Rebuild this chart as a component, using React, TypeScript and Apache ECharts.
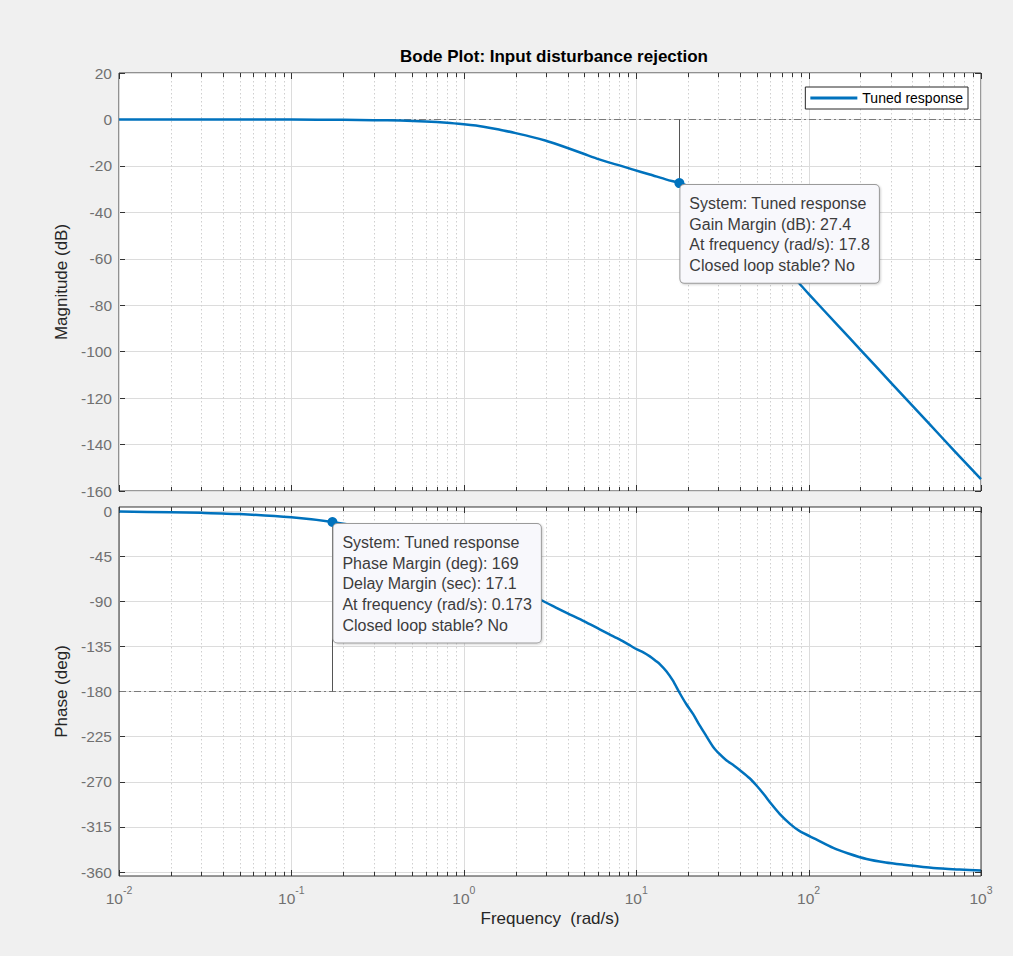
import React, { useEffect, useRef } from 'react';
import * as echarts from 'echarts';

const FONT = '"Liberation Sans", Arial, Helvetica, sans-serif';
const BLUE = '#0072BD';

// Magnitude response (rad/s, dB)
const magFreq = [0.01, 0.05, 0.1, 0.2, 0.3, 0.43, 0.6, 0.8, 1, 1.3, 1.6, 2, 2.5, 3, 3.5, 4, 5, 6.1, 7, 8, 9.5, 12, 15, 17.8, 20, 22, 25, 28, 31, 35, 40, 45, 50, 60, 67, 75, 87, 100, 150, 200, 300, 500, 700, 1000];
const magDb = [0, -0.02, -0.05, -0.15, -0.3, -0.5, -0.85, -1.4, -2.1, -3.1, -4.3, -5.9, -7.6, -9.2, -10.8, -12.3, -14.9, -17.2, -18.6, -19.8, -21.5, -23.7, -25.9, -27.4, -28.6, -29.8, -31.7, -33.8, -36.2, -39.5, -43.5, -47.5, -51, -57.5, -61.3, -65.2, -70.1, -75.1, -89.2, -99.2, -113.3, -131, -142.7, -154.9];

// Phase response (rad/s, deg)
const phaseFreq = [0.01, 0.02, 0.03, 0.05, 0.1, 0.173, 0.3, 0.4, 0.5, 0.7, 1, 1.2, 1.5, 2, 2.4, 2.82, 3.4, 4, 5, 6.14, 7, 8, 9, 10, 11, 12, 13, 13.7, 15, 16.3, 17.8, 19.5, 21.4, 23, 25, 27.9, 30.5, 33.3, 37, 40, 45.5, 50, 55, 61, 67.9, 78, 88.8, 110, 139, 170, 217, 280, 350, 529, 750, 1000];
const phaseDeg = [-0.6, -1.2, -1.8, -3, -6.3, -11, -18, -23, -28, -37, -48, -54.5, -62, -74, -82, -89, -96, -102, -110, -118, -123, -128, -133, -137.6, -141, -145, -149.5, -152.6, -160, -169, -181, -192.5, -202.6, -212, -222, -235, -242.5, -248.5, -254, -258.5, -266.5, -274, -282.5, -292.5, -302, -312, -319.3, -327.3, -336, -341.5, -347, -350.5, -352.6, -356, -357.6, -358.6];

// Axis structure
const decades = [0.01, 0.1, 1, 10, 100, 1000];
const minorMultipliers = [2, 3, 4, 5, 6, 7, 8, 9];
const magTicks = { min: -160, max: 20, step: 20 };
const phaseTicks = { min: -360, max: 0, step: 45 };
const phaseFrame = [-364, 4];

// Stability margin annotations
const gainPoint = [17.8, -27.4];
const phasePoint = [0.173, -11];
const gainInfo = ['System: Tuned response', 'Gain Margin (dB): 27.4', 'At frequency (rad/s): 17.8', 'Closed loop stable? No'];
const phaseInfo = ['System: Tuned response', 'Phase Margin (deg): 169', 'Delay Margin (sec): 17.1', 'At frequency (rad/s): 0.173', 'Closed loop stable? No'];

const zip = (a: number[], b: number[]) => a.map((v, i) => [v, b[i]]);

const gridMarks: number[][] = [
  ...decades.map((d) => [d, 1]),
  ...decades.slice(0, -1).flatMap((d) => minorMultipliers.map((m) => [Number((d * m).toPrecision(3)), 0])),
];

const makeGridRender = (yTop: number, yBot: number) => (params: any, api: any) => {
  const f = api.value(0);
  const major = api.value(1) === 1;
  const pTop = api.coord([f, yTop]);
  const pBot = api.coord([f, yBot]);
  const x = Math.round(pTop[0]) + 0.5;
  const top = pTop[1];
  const bot = pBot[1];
  const children: any[] = [];
  children.push({
    type: 'line',
    shape: { x1: x, y1: top, x2: x, y2: bot },
    style: major ? { stroke: '#dcdcdc', lineWidth: 1 } : { stroke: '#cfcfcf', lineWidth: 1, lineDash: [1.5, 2.5] },
  });
  const len = major ? 6 : 4;
  children.push({ type: 'line', shape: { x1: x, y1: top, x2: x, y2: top + len }, style: { stroke: '#333', lineWidth: 1 } });
  children.push({ type: 'line', shape: { x1: x, y1: bot - len, x2: x, y2: bot }, style: { stroke: '#333', lineWidth: 1 } });
  return { type: 'group', children };
};

const infoLabel = (lines: string[]) => ({
  show: true,
  position: [6, 7],
  align: 'left',
  verticalAlign: 'top',
  formatter: lines.join('\n'),
  fontFamily: FONT,
  fontSize: 16,
  lineHeight: 20.7,
  color: '#3c3c3c',
  backgroundColor: '#f8f8fc',
  borderColor: '#9a9a9a',
  borderWidth: 1,
  borderRadius: 4,
  padding: [8, 9, 7, 9],
  shadowColor: 'rgba(0,0,0,0.18)',
  shadowBlur: 2,
  shadowOffsetX: 1,
  shadowOffsetY: 1,
});

const dashDot = { color: '#7a7a7a', width: 1, type: [7, 3, 2, 3] as any };

const xLabelFormatter = (v: number) => `{b|10}{s|${Math.round(Math.log10(v))}}`;

const tickLabel = { color: '#707070', fontSize: 15.5, fontFamily: FONT };

const option: any = {
  animation: false,
  backgroundColor: '#f0f0f0',
  title: {
    text: 'Bode Plot: Input disturbance rejection',
    left: 549,
    top: 43,
    textAlign: 'center',
    textStyle: { fontFamily: FONT, fontSize: 17, fontWeight: 'bold', color: '#000' },
  },
  legend: {
    data: [{ name: 'Tuned response', icon: 'rect' }],
    right: 45,
    top: 87,
    padding: [3, 5, 3, 5],
    itemWidth: 47,
    itemHeight: 3,
    backgroundColor: '#fff',
    borderColor: '#262626',
    borderWidth: 1,
    borderRadius: 0,
    selectedMode: false,
    textStyle: { fontFamily: FONT, fontSize: 14, color: '#000', lineHeight: 16 },
  },
  grid: [
    { left: 119, top: 73, width: 862, height: 418, show: true, backgroundColor: '#fff', borderColor: '#333', borderWidth: 1 },
    { left: 119, top: 511, width: 862, height: 361, show: false },
  ],
  xAxis: [
    {
      type: 'log', gridIndex: 0, min: 0.01, max: 1000, logBase: 10,
      axisLine: { show: false }, axisTick: { show: false }, axisLabel: { show: false }, splitLine: { show: false },
    },
    {
      type: 'log', gridIndex: 1, min: 0.01, max: 1000, logBase: 10,
      axisLine: { show: false }, axisTick: { show: false }, splitLine: { show: false },
      axisLabel: {
        margin: 12,
        formatter: xLabelFormatter,
        rich: {
          b: { ...tickLabel, fontSize: 15.5, padding: [6, 0, 0, 0], verticalAlign: 'top' },
          s: { ...tickLabel, fontSize: 10.5, verticalAlign: 'top' },
        },
      },
      name: 'Frequency  (rad/s)',
      nameLocation: 'middle',
      nameGap: 38,
      nameTextStyle: { fontFamily: FONT, fontSize: 17, color: '#262626' },
    },
  ],
  yAxis: [
    {
      type: 'value', gridIndex: 0, min: magTicks.min, max: magTicks.max, interval: magTicks.step,
      axisLine: { show: false },
      axisTick: { show: true, inside: true, length: 6, lineStyle: { color: '#333' } },
      axisLabel: { ...tickLabel, margin: 7 },
      splitLine: { show: true, lineStyle: { color: '#dcdcdc' } },
      name: 'Magnitude (dB)', nameLocation: 'middle', nameGap: 38, nameRotate: 90,
      nameTextStyle: { fontFamily: FONT, fontSize: 17, color: '#262626' },
    },
    {
      type: 'value', gridIndex: 1, min: phaseTicks.min, max: phaseTicks.max, interval: phaseTicks.step,
      axisLine: { show: false },
      axisTick: { show: true, inside: true, length: 6, lineStyle: { color: '#333' } },
      axisLabel: { ...tickLabel, margin: 7 },
      splitLine: { show: true, lineStyle: { color: '#dcdcdc' } },
      name: 'Phase (deg)', nameLocation: 'middle', nameGap: 38, nameRotate: 90,
      nameTextStyle: { fontFamily: FONT, fontSize: 17, color: '#262626' },
    },
    {
      type: 'value', gridIndex: 0, position: 'right', min: magTicks.min, max: magTicks.max, interval: magTicks.step,
      axisLine: { show: false }, axisLabel: { show: false }, splitLine: { show: false },
      axisTick: { show: true, inside: true, length: 6, lineStyle: { color: '#333' } },
    },
    {
      type: 'value', gridIndex: 1, position: 'right', min: phaseTicks.min, max: phaseTicks.max, interval: phaseTicks.step,
      axisLine: { show: false }, axisLabel: { show: false }, splitLine: { show: false },
      axisTick: { show: true, inside: true, length: 6, lineStyle: { color: '#333' } },
    },
  ],
  series: [
    {
      type: 'custom', xAxisIndex: 0, yAxisIndex: 0, silent: true, z: 1, clip: false,
      renderItem: makeGridRender(magTicks.max, magTicks.min), data: gridMarks,
    },
    {
      type: 'custom', xAxisIndex: 1, yAxisIndex: 1, silent: true, z: 1, clip: false,
      renderItem: makeGridRender(phaseFrame[1], phaseFrame[0]), data: gridMarks,
    },
    {
      name: 'Tuned response', type: 'line', xAxisIndex: 0, yAxisIndex: 0,
      data: zip(magFreq, magDb), symbol: 'none', smooth: 0.25,
      lineStyle: { color: BLUE, width: 2.5, join: 'round' }, itemStyle: { color: BLUE }, z: 3,
      markLine: {
        silent: true, symbol: ['none', 'none'], label: { show: false }, z: 2,
        data: [
          { yAxis: 0, lineStyle: dashDot },
          [{ coord: [gainPoint[0], 0], lineStyle: { color: '#555', width: 1, type: 'solid' } }, { coord: gainPoint }],
        ],
      },
      markPoint: {
        silent: true, z: 10,
        data: [{ coord: gainPoint, symbol: 'circle', symbolSize: 10, itemStyle: { color: BLUE }, label: infoLabel(gainInfo) }],
      },
    },
    {
      name: 'Tuned response', type: 'line', xAxisIndex: 1, yAxisIndex: 1,
      data: zip(phaseFreq, phaseDeg), symbol: 'none', smooth: 0.25,
      lineStyle: { color: BLUE, width: 2.5, join: 'round' }, itemStyle: { color: BLUE }, z: 3,
      markLine: {
        silent: true, symbol: ['none', 'none'], label: { show: false }, z: 2,
        data: [
          { yAxis: -180, lineStyle: dashDot },
          [{ coord: [phasePoint[0], -180], lineStyle: { color: '#555', width: 1, type: 'solid' } }, { coord: phasePoint }],
        ],
      },
      markPoint: {
        silent: true, z: 10,
        data: [{ coord: phasePoint, symbol: 'circle', symbolSize: 10, itemStyle: { color: BLUE }, label: infoLabel(phaseInfo) }],
      },
    },
  ],
};

export default function App() {
  const ref = useRef<HTMLDivElement>(null);
  useEffect(() => {
    document.body.style.margin = '0';
    const chart = echarts.init(ref.current!, undefined, { renderer: 'svg' });
    chart.setOption(option);
    const tl = chart.convertToPixel({ xAxisIndex: 1, yAxisIndex: 1 } as any, [0.01, phaseFrame[1]]) as number[];
    const br = chart.convertToPixel({ xAxisIndex: 1, yAxisIndex: 1 } as any, [1000, phaseFrame[0]]) as number[];
    const shape = { x: tl[0], y: tl[1], width: br[0] - tl[0], height: br[1] - tl[1] };
    chart.setOption({
      graphic: [
        { type: 'rect', z: -10, silent: true, shape, style: { fill: '#fff' } },
        { type: 'rect', z: 50, silent: true, shape, style: { fill: 'none', stroke: '#333', lineWidth: 1 } },
      ],
    });
    return () => chart.dispose();
  }, []);
  return <div ref={ref} style={{ width: 1013, height: 956 }} />;
}
